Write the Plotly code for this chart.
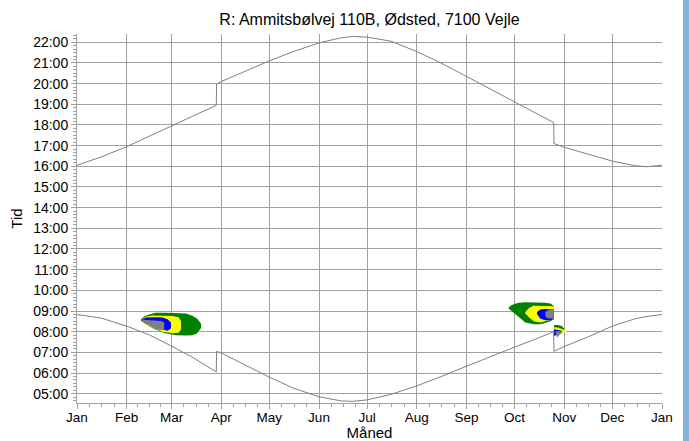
import plotly.graph_objects as go

# Month starts (day of year, 0 = 1 Jan) and their labels
month_days = [0, 31, 59, 90, 120, 151, 181, 212, 243, 273, 304, 334, 365]
month_labels = ["Jan", "Feb", "Mar", "Apr", "May", "Jun", "Jul",
                "Aug", "Sep", "Oct", "Nov", "Dec", "Jan"]

# Hour ticks
hour_vals = list(range(5, 23))
hour_labels = [f"{h:02d}:00" for h in hour_vals]

# Sunrise / sunset (local clock time, hours) with DST shifts
sun_days = [0, 15, 31, 45, 59, 73, 86.9, 87.1, 90, 105, 120, 135, 151, 165,
            172, 181, 196, 212, 227, 243, 258, 273, 288, 297.4, 297.6, 304,
            319, 334, 348, 355, 365]
sunrise = [8.83, 8.66, 8.27, 7.85, 7.30, 6.72, 6.05, 7.05, 6.97, 6.38, 5.80,
           5.27, 4.85, 4.65, 4.63, 4.70, 4.97, 5.38, 5.82, 6.33, 6.80, 7.25,
           7.70, 8.00, 7.05, 7.28, 7.75, 8.27, 8.62, 8.73, 8.83]
sunset = [16.05, 16.45, 16.95, 17.45, 17.98, 18.48, 18.95, 19.98, 20.10,
          20.60, 21.10, 21.55, 21.97, 22.22, 22.28, 22.25, 22.05, 21.55,
          21.00, 20.35, 19.72, 19.12, 18.50, 18.12, 17.10, 16.92, 16.58,
          16.25, 16.03, 15.98, 16.05]

# Shadow flicker periods: per day, start and end of flicker (hours)
# Spring period
g1_days = [39.9, 42, 45, 49, 55, 62, 68, 72, 75, 77.4]
g1_start = [8.52, 8.42, 8.26, 8.10, 7.92, 7.83, 7.81, 7.83, 7.92, 8.18]
g1_end = [8.60, 8.74, 8.83, 8.91, 8.91, 8.91, 8.88, 8.77, 8.62, 8.38]

y1_days = [40.5, 43, 47.1, 53.4, 59.6, 63.4, 64.9]
y1_start = [8.50, 8.35, 8.20, 8.00, 7.92, 7.95, 8.10]
y1_end = [8.58, 8.72, 8.78, 8.78, 8.76, 8.70, 8.50]

b1_days = [40.7, 43, 49.2, 53.4, 56.5, 58.6]
b1_start = [8.52, 8.38, 8.20, 8.10, 8.05, 8.15]
b1_end = [8.58, 8.68, 8.70, 8.68, 8.60, 8.45]

k1_days = [40.9, 45.1, 49.2, 52.4, 54.4]
k1_start = [8.50, 8.30, 8.12, 8.08, 8.12]
k1_end = [8.58, 8.55, 8.55, 8.52, 8.45]

# Autumn period (summer time)
g2_days = [269.3, 270.5, 272.4, 275.5, 279.7, 284.9, 289.1, 292.2, 295.4,
           297.4]
g2_start = [9.12, 9.02, 8.92, 8.72, 8.45, 8.36, 8.36, 8.42, 8.50, 8.60]
g2_end = [9.16, 9.26, 9.33, 9.40, 9.42, 9.42, 9.42, 9.40, 9.36, 9.26]

y2_days = [279.7, 282, 284.9, 289.1, 292.2, 295.4, 297.4]
y2_start = [8.88, 8.70, 8.50, 8.45, 8.50, 8.55, 8.60]
y2_end = [8.95, 9.15, 9.26, 9.26, 9.26, 9.26, 9.23]

b2_days = [287, 289.1, 292.2, 295.4, 297.4]
b2_start = [8.85, 8.62, 8.55, 8.55, 8.60]
b2_end = [8.95, 9.07, 9.10, 9.10, 9.07]

k2_days = [292.2, 293.5, 295.4, 297.4]
k2_start = [8.75, 8.65, 8.62, 8.62]
k2_end = [8.95, 9.03, 9.05, 9.05]

# Autumn period (after change to standard time)
g3_days = [297.6, 300, 302.5, 304]
g3_start = [7.80, 7.85, 7.95, 8.00]
g3_end = [8.32, 8.32, 8.27, 8.14]

y3_days = [297.6, 300, 303, 305.5]
y3_start = [7.80, 7.85, 7.95, 8.00]
y3_end = [8.22, 8.20, 8.12, 8.05]

b3_days = [297.6, 300, 302.5]
b3_start = [7.80, 7.85, 7.95]
b3_end = [8.12, 8.10, 8.05]

k3_days = [298.5, 299.5, 302.7]
k3_start = [7.98, 7.72, 7.98]
k3_end = [8.02, 8.02, 8.02]

GREEN, YELLOW, BLUE, GREY = "#008000", "#ffff00", "#0000ff", "#808080"

fig = go.Figure()


def add_period(days, start, end, color):
    xs = list(days) + list(days)[::-1]
    ys = list(end) + list(start)[::-1]
    fig.add_trace(go.Scatter(x=xs, y=ys, mode="lines", fill="toself",
                             fillcolor=color, line=dict(width=0, color=color),
                             hoverinfo="skip", showlegend=False))


periods = [
    (g1_days, g1_start, g1_end, GREEN), (y1_days, y1_start, y1_end, YELLOW),
    (b1_days, b1_start, b1_end, BLUE), (k1_days, k1_start, k1_end, GREY),
    (g2_days, g2_start, g2_end, GREEN), (y2_days, y2_start, y2_end, YELLOW),
    (b2_days, b2_start, b2_end, BLUE), (k2_days, k2_start, k2_end, GREY),
    (g3_days, g3_start, g3_end, GREEN), (y3_days, y3_start, y3_end, YELLOW),
    (b3_days, b3_start, b3_end, BLUE), (k3_days, k3_start, k3_end, GREY),
]
for d, s, e, c in periods:
    add_period(d, s, e, c)

for series in (sunrise, sunset):
    fig.add_trace(go.Scatter(x=sun_days, y=series, mode="lines",
                             line=dict(color="#808080", width=1),
                             hoverinfo="skip", showlegend=False))

# Minor ticks on the month axis: quarter points between month starts
x_minor = []
for a, b in zip(month_days[:-1], month_days[1:]):
    for q in (0.25, 0.5, 0.75):
        x_minor.append(a + (b - a) * q)

AX = "#a0a0a0"
FONT = "Liberation Sans, Arial, sans-serif"

fig.update_layout(
    width=689, height=441,
    margin=dict(l=77, r=27, t=34, b=38),
    paper_bgcolor="white", plot_bgcolor="white",
    font=dict(family=FONT, size=14, color="black"),
    title=dict(text="R: Ammitsbølvej 110B, Ødsted, 7100 Vejle",
               x=0.5, xref="paper", xanchor="center",
               y=0.955, yanchor="middle",
               font=dict(size=16, family=FONT, color="black")),
    xaxis=dict(range=[0, 365], tickmode="array", tickvals=month_days,
               ticktext=month_labels, showgrid=True, gridcolor=AX, gridwidth=1,
               showline=True, linecolor=AX, linewidth=1, ticks="outside",
               ticklen=5, tickcolor=AX, zeroline=False, layer="above traces",
               automargin=False, ticklabelstandoff=-3,
               tickfont=dict(size=13.5),
               minor=dict(tickmode="array", tickvals=x_minor, ticks="outside",
                          ticklen=3, tickcolor=AX, showgrid=False),
               title=dict(text="Måned", font=dict(size=15), standoff=0)),
    yaxis=dict(range=[4.55, 22.4], tickmode="array", tickvals=hour_vals,
               ticktext=hour_labels, showgrid=True, gridcolor=AX, gridwidth=1,
               showline=True, linecolor=AX, linewidth=1, ticks="outside",
               ticklen=5, tickcolor=AX, zeroline=False, layer="above traces",
               automargin=False,
               minor=dict(tick0=0, dtick=1 / 6, ticks="outside", ticklen=3,
                          tickcolor=AX, showgrid=False),
               title=dict(text="Tid", font=dict(size=15), standoff=6)),
    shapes=[dict(type="rect", xref="paper", yref="paper",
                 x0=(683 - 77) / 585, x1=(689 - 77) / 585, y0=-38 / 369,
                 y1=(441 - 38) / 369, fillcolor="#84b4dc",
                 line=dict(width=0), layer="above")],
)

fig.write_html("out.html")
